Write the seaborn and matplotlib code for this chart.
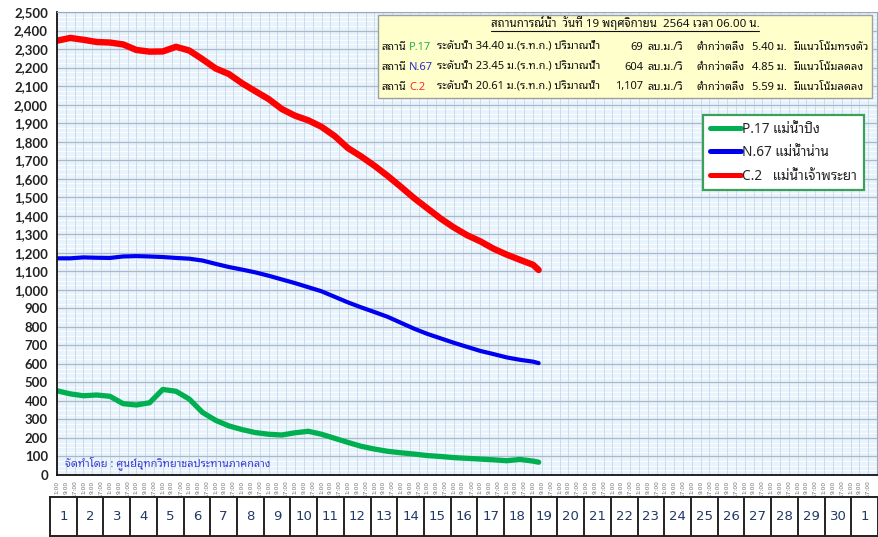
import matplotlib
matplotlib.use("Agg")
import matplotlib.pyplot as plt
from matplotlib.lines import Line2D
from matplotlib.patches import Rectangle
from matplotlib.ticker import MultipleLocator, FuncFormatter
import numpy as np
import pandas as pd
import seaborn as sns

# ---- data -------------------------------------------------------------
# hours after 1 Nov 01:00
hours = [0, 12, 24, 36, 48, 60, 72, 84, 96, 108, 120, 132, 144, 156, 168, 180,
         192, 204, 216, 228, 240, 252, 264, 276, 288, 300, 312, 324, 336, 348,
         360, 372, 384, 396, 408, 420, 432, 437]

flow_p17 = [455, 438, 428, 432, 425, 385, 378, 390, 462, 452,
            410, 338, 295, 265, 245, 229, 220, 216, 228, 236,
            220, 198, 176, 155, 140, 128, 120, 113, 105, 100,
            94, 90, 86, 82, 77, 84, 75, 69]
flow_n67 = [1170, 1170, 1175, 1173, 1172, 1180, 1182, 1180, 1177, 1172,
            1168, 1158, 1140, 1123, 1109, 1094, 1076, 1056, 1036, 1014,
            992, 962, 932, 905, 880, 854, 822, 790, 762, 738,
            714, 692, 670, 653, 635, 622, 612, 604]
flow_c2 = [2345, 2360, 2350, 2338, 2335, 2325, 2295, 2286, 2287, 2312,
           2292, 2245, 2195, 2165, 2115, 2072, 2030, 1976, 1940, 1915,
           1880, 1830, 1765, 1720, 1670, 1615, 1556, 1495, 1440, 1385,
           1337, 1295, 1262, 1222, 1190, 1162, 1135, 1107]

station_codes = ["P.17", "N.67", "C.2"]
station_labels = ["P.17 แม่น้ำปิง", "N.67 แม่น้ำน่าน", "C.2   แม่น้ำเจ้าพระยา"]
station_levels = ["34.40", "23.45", "20.61"]
station_flows = [69, 604, 1107]
station_depths = [5.40, 4.85, 5.59]
station_trends = ["มีแนวโน้มทรงตัว", "มีแนวโน้มลดลง", "มีแนวโน้มลดลง"]

tick_times = ["1:00", "9:00", "17:00"]
day_labels = [str(d) for d in range(1, 31)] + ["1"]

title_text = "สถานการณ์น้ำ  วันที่ 19 พฤศจิกายน  2564 เวลา 06.00 น."
credit_text = "จัดทำโดย : ศูนย์อุทกวิทยาชลประทานภาคกลาง"

# ---- style ------------------------------------------------------------
sns.set_style("white")
THAI = ["Noto Sans Thai Looped", "DejaVu Sans"]
plt.rcParams["font.family"] = THAI

line_colors = ["#00b050", "#0000f0", "#ff0000"]
code_colors = ["#22b14c", "#2a2ad0", "#ff2a2a"]
line_widths = [3.8, 3.0, 4.6]

W, H = 879, 537
fig = plt.figure(figsize=(W / 100, H / 100), dpi=100)


def fx(px):
    return px / W


def fy(py):
    return 1 - py / H


ax = fig.add_axes([fx(57), fy(475), (877 - 57) / W, (475 - 12) / H])
ax.set_facecolor("#e9f3fb")

df = pd.DataFrame({
    "hours": hours * 3,
    "flow": flow_p17 + flow_n67 + flow_c2,
    "station": sum([[s] * len(hours) for s in station_labels], []),
})

for label, color, lw in zip(station_labels, line_colors, line_widths):
    sns.lineplot(data=df[df["station"] == label], x="hours", y="flow",
                 color=color, linewidth=lw, label=label, ax=ax,
                 solid_capstyle="round", solid_joinstyle="round")

# axes limits and ticks
ax.set_xlim(0, 744)
ax.set_ylim(0, 2500)
ax.yaxis.set_major_locator(MultipleLocator(100))
ax.yaxis.set_minor_locator(MultipleLocator(20))
ax.yaxis.set_major_formatter(FuncFormatter(lambda v, p: f"{int(v):,}"))
xt = np.arange(0, 744, 8)
ax.set_xticks(xt)
ax.set_xticklabels([tick_times[i % 3] for i in range(len(xt))],
                   rotation=90, fontsize=4.2, color="#707070",
                   family="DejaVu Sans")
ax.set_xlabel("")
ax.set_ylabel("")

for lab in ax.get_yticklabels():
    lab.set_fontfamily(["Lato", "DejaVu Sans"])
    lab.set_fontweight("bold")
    lab.set_fontsize(9.5)
    lab.set_color("#222222")

ax.tick_params(axis="y", which="major", direction="inout", length=7,
               width=1.0, pad=3, color="#222222")
ax.tick_params(axis="y", which="minor", direction="inout", length=3.5,
               width=0.8, color="#222222")
ax.tick_params(axis="x", which="major", direction="inout", length=4,
               width=0.8, pad=2, color="#444444")

# fine grid on the plot area
for y in np.arange(25, 2500, 25):
    ax.axhline(y, color="#fbfdff", lw=0.8, zorder=0)
for x in np.arange(8, 744, 8):
    ax.axvline(x, color="#cadcee", lw=0.7, zorder=0)
for y in np.arange(100, 2501, 100):
    ax.axhline(y, color="#a9b9cb", lw=0.9, zorder=0.5)

for side in ["left", "bottom"]:
    ax.spines[side].set_color("#111111")
    ax.spines[side].set_linewidth(1.3)
for side in ["top", "right"]:
    ax.spines[side].set_color("#9aa9b8")
    ax.spines[side].set_linewidth(0.8)

# legend
leg = ax.legend(loc="upper left", bbox_to_anchor=((703 - 57) / 820, (475 - 115) / 463),
                frameon=True, fancybox=False, framealpha=1, facecolor="white",
                edgecolor="#3aa05a", fontsize=9.8, handlelength=2.3,
                handletextpad=0.1, labelspacing=0.62, borderpad=0.5,
                borderaxespad=0)
leg.get_frame().set_linewidth(1.6)
for h in leg.get_lines():
    h.set_linewidth(3.6)
    h.set_solid_capstyle("round")

# credit line
ax.text((65 - 57) / 820, (475 - 463) / 463, credit_text, transform=ax.transAxes,
        fontsize=7.9, color="#3c3cd6", va="center", ha="left", zorder=5)

# ---- status box -------------------------------------------------------
fig.add_artist(Rectangle((fx(378), fy(98)), (872 - 378) / W, (98 - 15) / H,
                         transform=fig.transFigure, facecolor="#ffffcc",
                         edgecolor="#a0a0a0", lw=1.0, zorder=6))
FS = 8.0
title = fig.text(fx(625), fy(23), title_text, ha="center", va="center",
                 fontsize=FS + 0.3, color="#111111", zorder=7)

row_y = [47, 67, 87]
for i in range(3):
    y = fy(row_y[i])
    kw = dict(va="center", fontsize=FS, color="#111111", zorder=7)
    fig.text(fx(381), y, "สถานี", ha="left", **kw)
    fig.text(fx(409), y, station_codes[i], ha="left",
             **{**kw, "color": code_colors[i]})
    fig.text(fx(437), y, f"ระดับน้ำ {station_levels[i]} ม.(ร.ท.ก.) ปริมาณน้ำ",
             ha="left", **kw)
    fig.text(fx(643), y, f"{station_flows[i]:,}", ha="right", **kw)
    fig.text(fx(647), y, "ลบ.ม./วิ", ha="left", **kw)
    fig.text(fx(697), y, "ต่ำกว่าตลิ่ง", ha="left", **kw)
    fig.text(fx(752), y, f"{station_depths[i]:.2f} ม.", ha="left", **kw)
    fig.text(fx(794), y, station_trends[i], ha="left", **kw)

# underline the title
fig.canvas.draw()
bb = title.get_window_extent(fig.canvas.get_renderer())
fig.add_artist(Line2D([bb.x0 / W, bb.x1 / W], [fy(31), fy(31)],
                      transform=fig.transFigure, color="#111111", lw=0.8,
                      zorder=7))

# ---- day boxes ----------------------------------------------------------
bx = fig.add_axes([fx(50), fy(536), (878 - 50) / W, (536 - 497) / H])
bx.set_xlim(0, len(day_labels))
bx.set_ylim(0, 1)
bx.set_facecolor("white")
bx.set_xticks([])
bx.set_yticks([])
for s in bx.spines.values():
    s.set_color("#222222")
    s.set_linewidth(1.4)
bx.vlines(np.arange(1, len(day_labels)), 0, 1, color="#222222", lw=1.4)
for i, d in enumerate(day_labels):
    bx.text(i + 0.5, 0.5, d, ha="center", va="center", fontsize=9.5,
            color="#1f3864", family=["DejaVu Sans"])

fig.savefig("out.png", dpi=100)
